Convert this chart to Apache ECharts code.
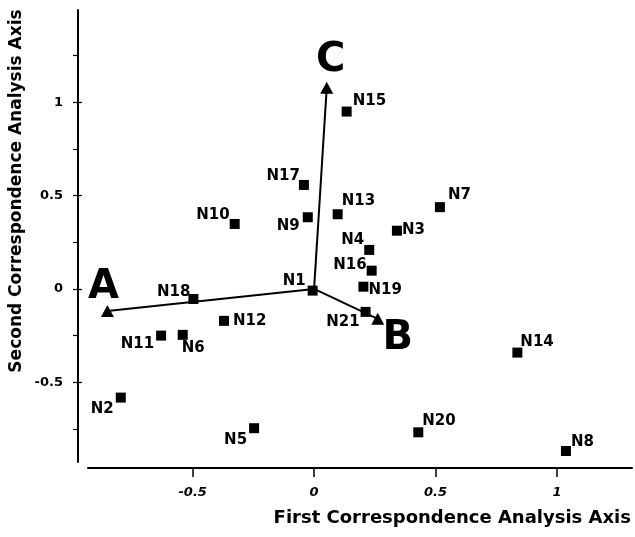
<!DOCTYPE html>
<html>
<head>
<meta charset="utf-8">
<script src="https://cdn.jsdelivr.net/npm/echarts@6/dist/echarts.min.js"></script>
<style>
html,body{margin:0;padding:0;background:#fff;}
#chart{width:635px;height:537px;}
</style>
</head>
<body>
<div id="chart"></div>
<script>
// ---- data ----
var pointNames = ['N1','N2','N3','N4','N5','N6','N7','N8','N9','N10','N11','N12','N13','N14','N15','N16','N17','N18','N19','N20','N21'];
var pointX = [-0.006,-0.796,0.341,0.227,-0.247,-0.541,0.518,1.037,-0.026,-0.327,-0.630,-0.371,0.097,0.837,0.134,0.237,-0.042,-0.497,0.203,0.429,0.212];
var pointY = [-0.009,-0.582,0.312,0.209,-0.746,-0.246,0.438,-0.868,0.384,0.348,-0.250,-0.171,0.400,-0.341,0.950,0.098,0.557,-0.054,0.012,-0.768,-0.123];

var vectorNames = ['A','B','C'];
var vectorX = [-0.851, 0.262, 0.052];
var vectorY = [-0.118, -0.160, 1.077];
var vectorOrigin = [0, 0];

var xTickValues = [-0.5, 0, 0.5, 1];
var yLabelValues = [-0.5, 0, 0.5, 1];
var yMinorTickValues = [-0.75, -0.5, -0.25, 0, 0.25, 0.5, 0.75, 1, 1.25];

var xAxisTitle = 'First Correspondence Analysis Axis';
var yAxisTitle = 'Second Correspondence Analysis Axis';

// ---- label placement (style) ----
var labelPlacement = {
  N1:['right',-7,-10], N2:['right',-7,12], N3:['left',5,-1], N4:['right',-5,-10],
  N5:['right',-7,12], N6:['left',-1,13], N7:['left',8,-12], N8:['left',5,-9],
  N9:['right',-8,9], N10:['right',-5,-9], N11:['right',-7,9], N12:['left',9,0],
  N13:['left',4,-13], N14:['left',3,-10], N15:['left',6,-10], N16:['right',-5,-6],
  N17:['right',-4,-9], N18:['right',-3,-7], N19:['left',5,3], N20:['left',4,-11],
  N21:['right',-6,10]
};
var vectorLabelOffset = { A:[-4,-23], B:[20,20], C:[4,-27] };

var FONT = 'DejaVu Sans';

var pointData = pointNames.map(function(n,i){
  var p = labelPlacement[n];
  return {
    name:n, value:[pointX[i], pointY[i]],
    label:{ show:true, formatter:n, position:'inside', align:p[0], verticalAlign:'middle', offset:[p[1],p[2]] }
  };
});

var vectorData = vectorNames.map(function(n,i){
  return {
    name:n, value:[vectorX[i], vectorY[i]],
    label:{ show:true, formatter:n, position:'inside', align:'center', verticalAlign:'middle', offset:vectorLabelOffset[n] }
  };
});

var lineSeries = vectorNames.map(function(n,i){
  return {
    type:'line', silent:true, symbol:'none', z:1,
    data:[vectorOrigin, [vectorX[i], vectorY[i]]],
    lineStyle:{ color:'#000', width:2, opacity:1 }
  };
});

var chart = echarts.init(document.getElementById('chart'), null, {renderer:'canvas'});
chart.setOption({
  animation:false,
  backgroundColor:'#fff',
  grid:{ left:88, right:3, top:10, bottom:75 },
  xAxis:{
    type:'value', min:-0.931, max:1.309, offset:6,
    axisLine:{ show:true, onZero:false, lineStyle:{ color:'#000', width:2 } },
    axisTick:{ show:true, customValues:xTickValues, length:9, lineStyle:{ color:'#000', width:1.5 } },
    axisLabel:{ show:true, customValues:xTickValues, margin:18, color:'#000',
      fontFamily:FONT, fontWeight:'bold', fontStyle:'italic', fontSize:13 },
    splitLine:{ show:false }
  },
  yAxis:[{
    type:'value', min:-0.927, max:1.494, offset:10,
    axisLine:{ show:true, onZero:false, lineStyle:{ color:'#000', width:2 } },
    axisTick:{ show:true, customValues:yMinorTickValues, length:5, lineStyle:{ color:'#000', width:1.2 } },
    axisLabel:{ show:true, customValues:yLabelValues, margin:15, color:'#000',
      fontFamily:FONT, fontWeight:'bold', fontSize:13 },
    splitLine:{ show:false }
  },{
    type:'value', min:-0.927, max:1.494, offset:10, position:'left',
    axisLine:{ show:false, onZero:false },
    axisTick:{ show:true, inside:true, customValues:yLabelValues, length:4, lineStyle:{ color:'#000', width:1.2 } },
    axisLabel:{ show:false },
    splitLine:{ show:false }
  }],
  graphic:[
    { type:'text', right:4, top:509, style:{ text:xAxisTitle, fill:'#000', font:'bold 18px "DejaVu Sans"' } },
    { type:'text', x:17, y:191, rotation:Math.PI/2,
      style:{ text:yAxisTitle, fill:'#000', font:'bold 17px "DejaVu Sans"', align:'center', verticalAlign:'middle' } }
  ],
  series: lineSeries.concat([
    {
      type:'scatter', symbol:'rect', symbolSize:10, z:3,
      itemStyle:{ color:'#000', opacity:1 },
      label:{ color:'#000', fontFamily:FONT, fontWeight:'bold', fontSize:15 },
      data:pointData
    },
    {
      type:'scatter', symbol:'triangle', symbolSize:[13,12], z:4,
      itemStyle:{ color:'#000', opacity:1 },
      label:{ color:'#000', fontFamily:FONT, fontWeight:'bold', fontSize:40 },
      data:vectorData
    }
  ])
});
</script>
</body>
</html>
